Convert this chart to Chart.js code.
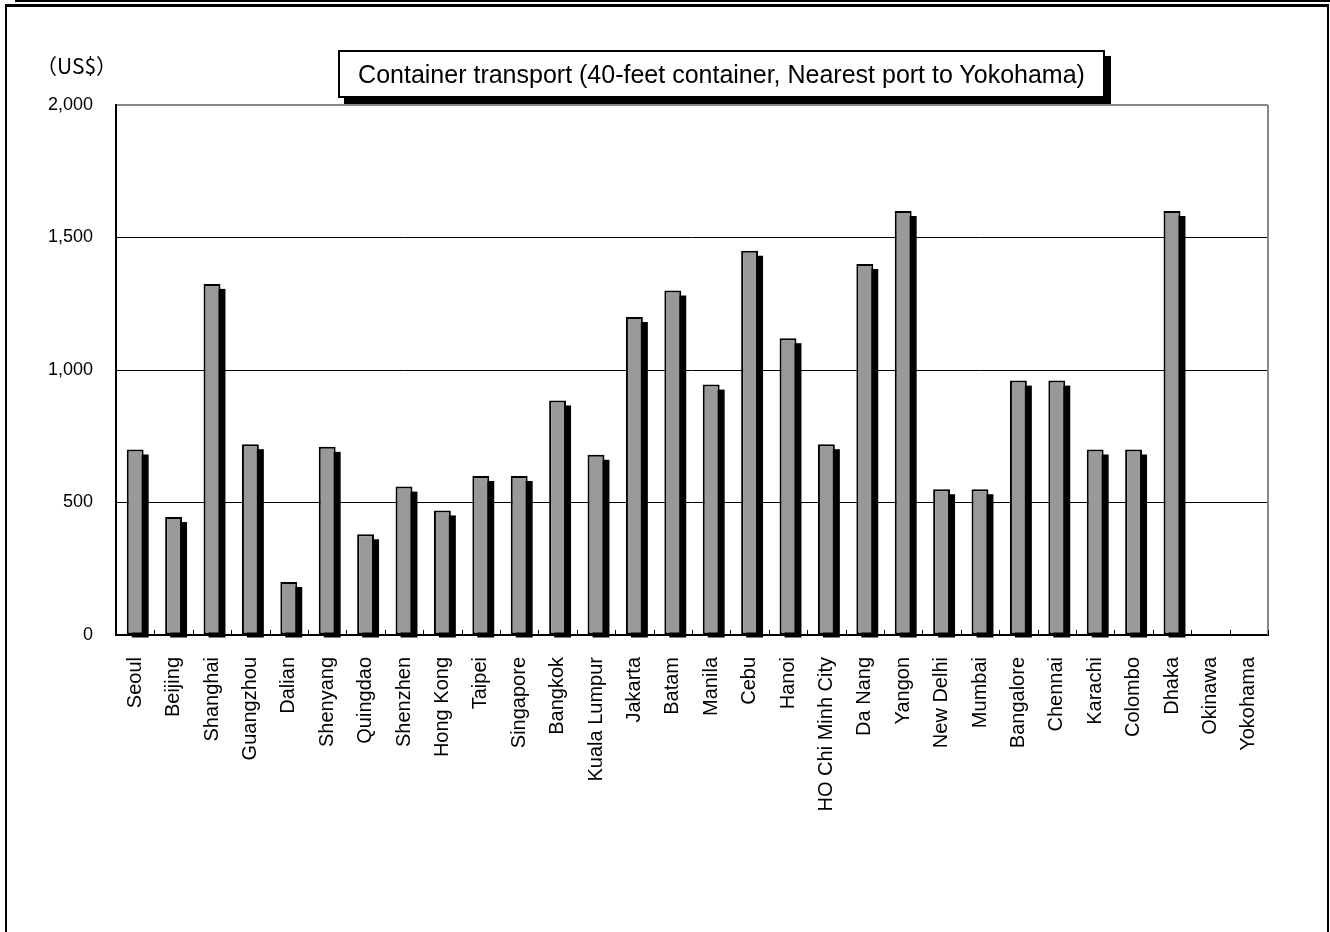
<!DOCTYPE html>
<html>
<head>
<meta charset="utf-8">
<script src="https://cdn.jsdelivr.net/npm/chart.js@4.4.1/dist/chart.umd.min.js"></script>
<style>
  body { margin: 0; background: #fff; }
  #wrap { position: relative; width: 1330px; height: 932px; overflow: hidden; }
  #c { position: absolute; left: 0; top: 0; }
  .topline { position: absolute; left: 15px; top: 0; width: 1315px; height: 2px; background: #000; }
  .frame { position: absolute; left: 5px; top: 4px; width: 1320px; height: 940px; border: 2px solid #000; border-top-width: 3px; }
  .title { position: absolute; left: 338px; top: 50px; width: 763px; height: 44px; border: 2px solid #000; background: #fff;
           box-shadow: 6px 6px 0 #000; font: 25px "Liberation Sans", Arial, sans-serif; line-height: 44px; text-align: center; }
  .unit { position: absolute; left: 36px; top: 55px; font: 21px "Noto Sans CJK JP", sans-serif; line-height: 21px; }
</style>
</head>
<body>
<div id="wrap">
  <canvas id="c" width="1330" height="932"></canvas>
  <div class="topline"></div>
  <div class="frame"></div>
  <div class="unit">（US$）</div>
  <div class="title">Container transport (40-feet container, Nearest port to Yokohama)</div>
</div>
<script>
const cities = ['Seoul', 'Beijing', 'Shanghai', 'Guangzhou', 'Dalian', 'Shenyang', 'Quingdao', 'Shenzhen',
  'Hong Kong', 'Taipei', 'Singapore', 'Bangkok', 'Kuala Lumpur', 'Jakarta', 'Batam', 'Manila', 'Cebu',
  'Hanoi', 'HO Chi Minh City', 'Da Nang', 'Yangon', 'New Delhi', 'Mumbai', 'Bangalore', 'Chennai',
  'Karachi', 'Colombo', 'Dhaka', 'Okinawa', 'Yokohama'];
const costs = [700, 445, 1325, 720, 200, 710, 380, 560, 470, 600, 600, 885, 680, 1200, 1300, 945, 1450,
  1120, 720, 1400, 1600, 550, 550, 960, 960, 700, 700, 1600, null, null];
const yTicks = [0, 500, 1000, 1500, 2000];

// black drop shadow behind each bar, plus frame details
const shadowPlugin = {
  id: 'shadow',
  beforeDatasetsDraw(chart) {
    const ctx = chart.ctx;
    const meta = chart.getDatasetMeta(0);
    ctx.save();
    ctx.fillStyle = '#000';
    meta.data.forEach((bar, i) => {
      if (costs[i] == null) return;
      const w = bar.width;
      ctx.fillRect(bar.x - w / 2 + 5, bar.y + 5, w, bar.base - bar.y - 2);
    });
    ctx.restore();
  },
  afterDraw(chart) {
    const ctx = chart.ctx;
    const a = chart.chartArea;
    const x = chart.scales.x;
    ctx.save();
    ctx.strokeStyle = '#888';
    ctx.lineWidth = 2;
    ctx.beginPath();
    ctx.moveTo(a.right, a.top);
    ctx.lineTo(a.right, a.bottom);
    ctx.stroke();
    // small inner tick marks between categories
    ctx.strokeStyle = '#000';
    ctx.lineWidth = 1;
    const step = (x.right - x.left) / cities.length;
    ctx.beginPath();
    for (let i = 1; i <= cities.length; i++) {
      const px = Math.round(x.left + step * i) + 0.5;
      ctx.moveTo(px, a.bottom);
      ctx.lineTo(px, a.bottom - 5);
    }
    ctx.stroke();
    ctx.restore();
  }
};

new Chart(document.getElementById('c'), {
  type: 'bar',
  data: {
    labels: cities,
    datasets: [{
      data: costs,
      backgroundColor: '#999999',
      borderColor: '#000',
      borderWidth: 2,
      borderSkipped: false,
      categoryPercentage: 1,
      barPercentage: 0.44
    }]
  },
  options: {
    responsive: false,
    animation: false,
    devicePixelRatio: 1,
    layout: { padding: { top: 105, right: 62, left: 0, bottom: 0 } },
    plugins: { legend: { display: false }, tooltip: { enabled: false } },
    scales: {
      x: {
        afterFit: s => { s.height = 297; },
        grid: { display: false, drawTicks: false },
        border: { display: true, color: '#000', width: 2 },
        ticks: {
          autoSkip: false, minRotation: 90, maxRotation: 90, padding: 22,
          color: '#000', font: { family: '"Liberation Sans", Arial', size: 20 }
        }
      },
      y: {
        min: 0, max: 2000,
        afterFit: s => { s.width = 116; },
        afterBuildTicks: s => { s.ticks = yTicks.map(v => ({ value: v })); },
        grid: {
          drawTicks: false,
          color: c => c.tick && c.tick.value === 2000 ? '#888' : '#000',
          lineWidth: c => c.tick && c.tick.value === 2000 ? 2 : 1
        },
        border: { display: true, color: '#000', width: 2 },
        ticks: {
          padding: 23, color: '#000',
          font: { family: '"Liberation Sans", Arial', size: 18 },
          callback: v => v.toLocaleString('en-US')
        }
      }
    }
  },
  plugins: [shadowPlugin]
});
</script>
</body>
</html>
